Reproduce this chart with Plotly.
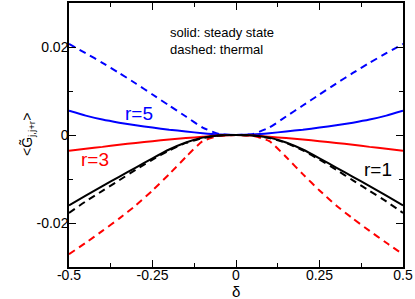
import plotly.graph_objects as go

# delta grid (half) and values
delta_pos = [0.0, 0.05, 0.1, 0.15, 0.2, 0.25, 0.3, 0.35, 0.4, 0.45, 0.5]

r5_steady = [0.0, 0.0001, 0.0004, 0.0008, 0.0012, 0.0017, 0.0022, 0.0028, 0.0035, 0.0044, 0.0055]
r5_thermal = [0.0, 0.0002, 0.0017, 0.0042, 0.0067, 0.0092, 0.0117, 0.0141, 0.0164, 0.0186, 0.0207]
r3_steady = [0.0, -0.0001, -0.0004, -0.0007, -0.0010, -0.0014, -0.0018, -0.0022, -0.0027, -0.0031, -0.0036]
r3_thermal = [0.0, -0.0002, -0.0014, -0.0050, -0.0089, -0.0126, -0.0160, -0.0190, -0.0218, -0.0245, -0.0271]
r1_steady = [0.0, -0.0001, -0.0006, -0.0017, -0.0033, -0.0053, -0.0074, -0.0095, -0.0116, -0.0138, -0.0160]
r1_thermal = [0.0, -0.0001, -0.0007, -0.0018, -0.0035, -0.0056, -0.0079, -0.0103, -0.0127, -0.0151, -0.0177]

x_tickvals = [-0.5, -0.25, 0, 0.25, 0.5]
x_ticktext = ["-0.5", "-0.25", "0", "0.25", "0.5"]
y_tickvals = [-0.02, 0, 0.02]
y_ticktext = ["-0.02", "0", "0.02"]


def mirror(vals):
    return [v for v in vals[:0:-1]] + list(vals)


xs = [-d for d in delta_pos[:0:-1]] + delta_pos

FONT = "Liberation Sans, Arial, sans-serif"
fig = go.Figure()

series = [
    (r5_steady, "#0000ff", "solid"),
    (r5_thermal, "#0000ff", "7px,5px"),
    (r3_steady, "#ff0000", "solid"),
    (r3_thermal, "#ff0000", "7px,5px"),
    (r1_steady, "#000000", "solid"),
    (r1_thermal, "#000000", "7px,5px"),
]
for vals, col, dash in series:
    fig.add_trace(go.Scatter(x=xs, y=mirror(vals), mode="lines",
                             line=dict(color=col, width=2, dash=dash, shape="spline", smoothing=0.5),
                             showlegend=False, hoverinfo="skip"))

axis_common = dict(showgrid=False, zeroline=False, showline=True, linecolor="black", linewidth=1.5,
                   mirror="ticks", ticks="inside", ticklen=7, tickwidth=1, tickcolor="black",
                   automargin=False,
                   tickfont=dict(family=FONT, size=14, color="black"))

fig.update_xaxes(range=[-0.5, 0.5], tickvals=x_tickvals, ticktext=x_ticktext,
                 ticklabelstandoff=-6,
                 minor=dict(ticks="inside", ticklen=4, dtick=0.125, tick0=0, tickcolor="black"),
                 **axis_common)
fig.update_yaxes(range=[-0.03, 0.03], tickvals=y_tickvals, ticktext=y_ticktext,
                 ticklabelstandoff=-4,
                 minor=dict(ticks="inside", ticklen=4, dtick=0.01, tick0=0, tickcolor="black"),
                 **axis_common)

fig.add_annotation(text="δ", xref="paper", yref="paper", x=0.5, y=0, yshift=-14,
                   yanchor="top", showarrow=False, font=dict(family=FONT, size=15, color="black"))
fig.add_annotation(text="&lt;G̃<sub>j,j+r</sub>&gt;", xref="paper", yref="paper", x=0, xshift=-52,
                   y=0.5, textangle=-90, showarrow=False,
                   font=dict(family=FONT, size=14, color="black"))
fig.add_annotation(text="solid: steady state<br>dashed: thermal", xref="paper", yref="paper",
                   x=0.297, y=0.925, xanchor="left", yanchor="top", align="left", showarrow=False,
                   font=dict(family=FONT, size=13, color="black"))
fig.add_annotation(text="r=5", x=-0.29, y=0.0048, showarrow=False,
                   font=dict(family=FONT, size=19, color="#0000ff"))
fig.add_annotation(text="r=3", x=-0.423, y=-0.0055, showarrow=False,
                   font=dict(family=FONT, size=19, color="#ff0000"))
fig.add_annotation(text="r=1", x=0.424, y=-0.0078, showarrow=False,
                   font=dict(family=FONT, size=19, color="black"))

fig.update_layout(width=415, height=299, margin=dict(l=69, r=12, t=3, b=32),
                  plot_bgcolor="white", paper_bgcolor="white")

fig.write_html("out.html", config={"displayModeBar": False})

with open("out.html", "r", encoding="utf-8") as f:
    html = f.read()
html = html.replace("<head>", "<head><style>html,body{margin:0;padding:0;overflow:hidden;}</style>", 1)
with open("out.html", "w", encoding="utf-8") as f:
    f.write(html)
